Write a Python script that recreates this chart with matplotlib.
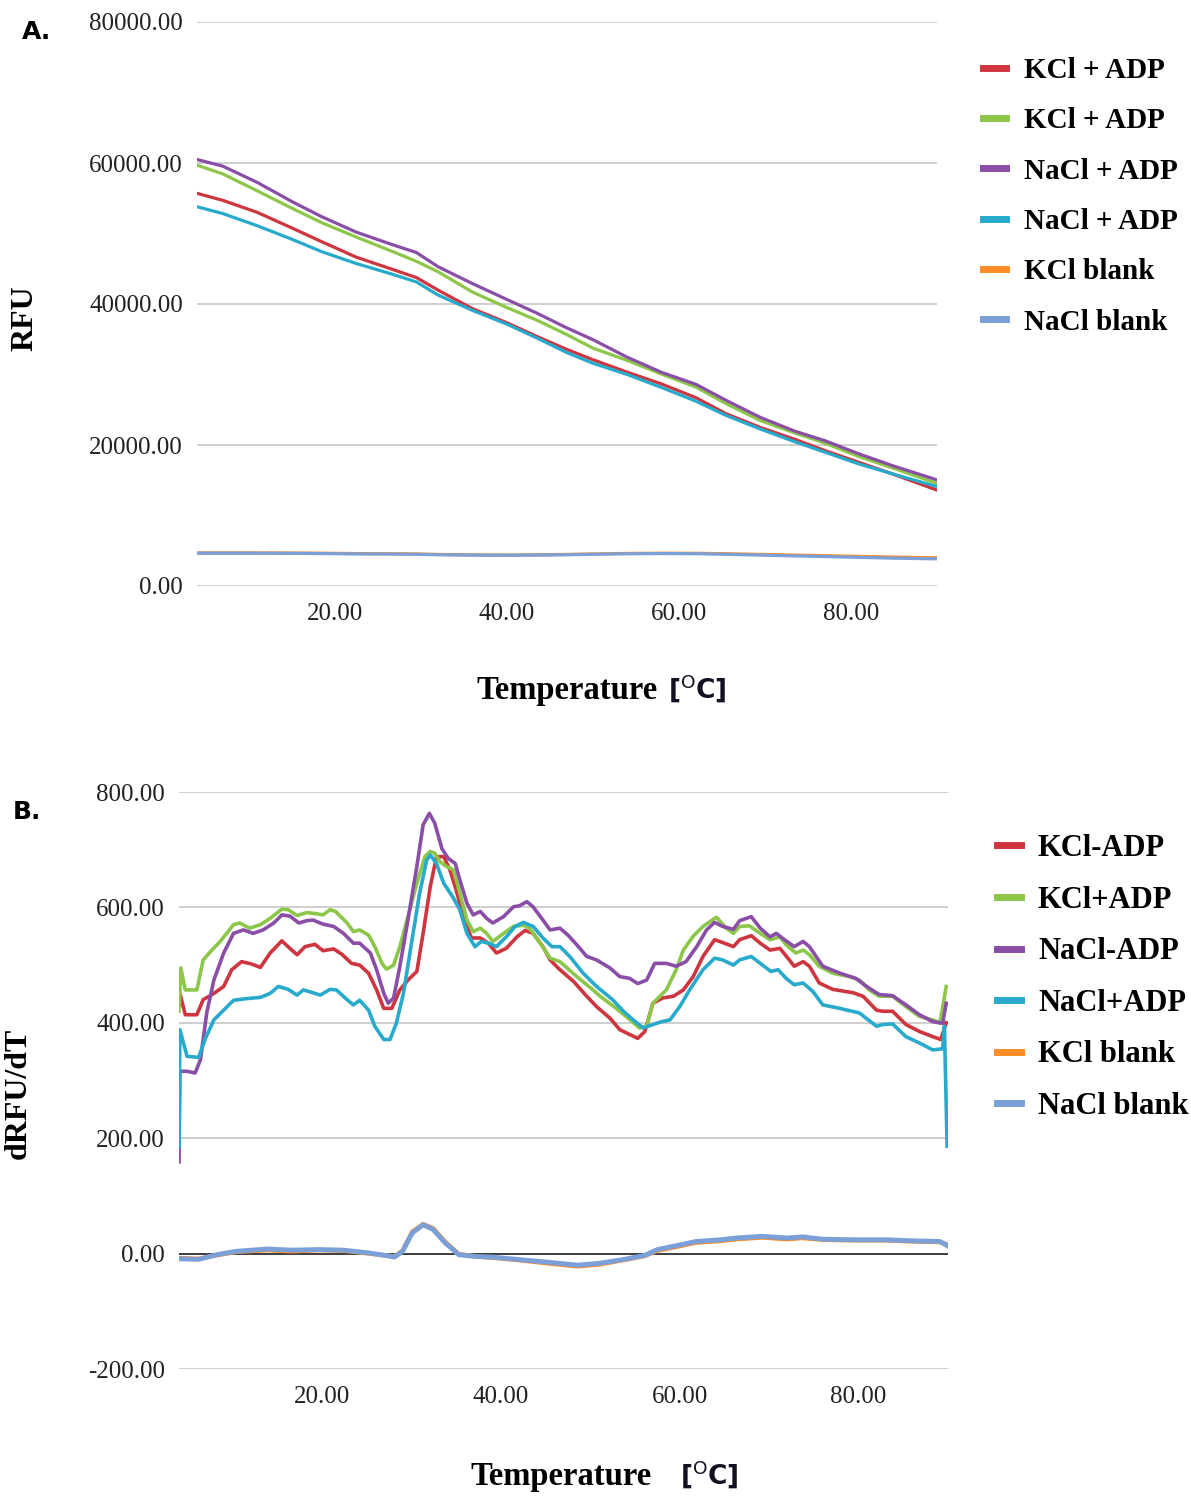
import matplotlib
matplotlib.use('Agg')
import matplotlib.pyplot as plt

plt.rcParams['font.family'] = ['Liberation Serif', 'DejaVu Serif']
plt.rcParams['mathtext.fontset'] = 'dejavusans'

RED = '#cf353f'
GREEN = '#8cc74a'
PURPLE = '#8a4ea6'
CYAN = '#27aacb'
ORANGE = '#ff8c26'
BLUE = '#7ba0d8'

# ---- panel A: raw fluorescence ----
temp_a = [4, 7, 11, 15, 18.5, 22.5, 26.5, 29.5, 32, 36, 40, 43.5, 47, 50, 54, 58, 62, 65.5,
          69.5, 73.5, 77, 81, 85, 90]
kcl_adp_a = [55700, 54700, 53000, 50800, 48830, 46650, 45000, 43750, 41980, 39350, 37350, 35400,
             33550, 32100, 30330, 28650, 26700, 24430, 22480, 20800, 19200, 17510, 15820, 13600]
kcl_adp2_a = [59700, 58450, 56050, 53600, 51530, 49500, 47550, 46050, 44580, 41700, 39500, 37700,
              35650, 33750, 32000, 30050, 28200, 25860, 23450, 21700, 20250, 18330, 16680, 14550]
nacl_adp_a = [60500, 59550, 57250, 54550, 52380, 50200, 48500, 47300, 45300, 42900, 40650, 38700,
              36600, 34950, 32450, 30300, 28600, 26330, 23900, 21950, 20600, 18710, 17000, 15050]
nacl_adp2_a = [53800, 52830, 51100, 49200, 47420, 45740, 44300, 43130, 41280, 39100, 37150, 35180,
               33100, 31600, 30000, 28150, 26200, 24190, 22250, 20450, 18970, 17280, 15850, 14100]
kcl_blank_a = [4700, 4700, 4700, 4680, 4650, 4600, 4580, 4550, 4480, 4420, 4400, 4430,
               4480, 4550, 4620, 4650, 4640, 4580, 4480, 4380, 4300, 4200, 4100, 4000]
nacl_blank_a = [4650, 4650, 4650, 4630, 4600, 4550, 4530, 4500, 4430, 4370, 4350, 4380,
                4430, 4500, 4570, 4600, 4580, 4500, 4380, 4270, 4180, 4060, 3950, 3850]
labels_a = ['KCl + ADP', 'KCl + ADP', 'NaCl + ADP', 'NaCl + ADP', 'KCl blank', 'NaCl blank']

# ---- panel B: first derivative ----
t_kcl_minus = [4.0, 4.1, 4.7, 6.0, 6.7, 7.9, 9.0, 9.9, 11.0, 12.1, 13.1, 14.2, 15.5, 16.4, 17.2, 18.1,
               19.2, 20.1, 21.3, 22.2, 23.3, 24.2, 25.2, 26.1, 26.9, 27.8, 28.7, 29.6, 30.6, 31.3,
               32.1, 32.8, 33.6, 34.3, 35.0, 35.8, 36.7, 37.7, 38.6, 39.5, 40.6, 41.8, 42.7, 43.6,
               44.7, 45.5, 46.6, 48.1, 49.6, 50.7, 52.2, 53.3, 55.3, 56.1, 57.0, 58.1, 59.3, 60.4,
               61.5, 62.6, 63.9, 65.0, 66.0, 66.7, 68.0, 69.0, 70.1, 71.2, 72.1, 72.8, 73.8, 74.5,
               75.6, 77.1, 79.4, 80.5, 82.0, 82.7, 83.8, 85.3, 86.8, 88.3, 89.2, 89.8]
kcl_minus = [430, 451, 414, 414, 440, 451, 463, 492, 506, 502, 496, 521, 542, 529, 518, 532,
             536, 525, 528, 519, 503, 500, 486, 457, 425, 425, 457, 474, 489, 555,
             636, 688, 688, 665, 630, 584, 547, 547, 538, 521, 529, 549, 560, 555,
             532, 509, 492, 472, 446, 428, 408, 388, 373, 385, 434, 443, 446, 457,
             480, 515, 544, 538, 532, 544, 551, 538, 526, 529, 512, 498, 506, 498,
             469, 458, 452, 446, 422, 420, 420, 397, 385, 376, 371, 400]

t_kcl_plus = [4.0, 4.2, 4.7, 6.0, 6.7, 7.5, 8.6, 10.1, 10.8, 11.9, 13.1, 14.2, 15.5, 16.2, 17.2, 18.3,
              19.4, 20.1, 20.9, 21.5, 22.8, 23.5, 24.2, 25.2, 25.9, 26.7, 27.2, 28.0, 28.7, 29.6,
              30.6, 31.5, 32.1, 32.6, 33.2, 33.9, 34.7, 35.4, 36.2, 36.9, 37.7, 38.4, 39.1, 40.3,
              41.4, 42.5, 43.2, 44.4, 45.5, 46.6, 48.5, 50.3, 51.1, 52.9, 54.0, 55.5, 56.3, 57.0,
              58.5, 59.6, 60.4, 61.5, 62.6, 64.1, 65.2, 66.0, 66.7, 67.8, 69.0, 70.1, 71.2, 71.9,
              73.0, 73.8, 74.5, 75.6, 77.1, 79.0, 80.1, 81.2, 82.3, 83.8, 85.3, 86.8, 88.3, 89.1, 89.8]
kcl_plus = [420, 495, 457, 457, 509, 523, 541, 570, 573, 564, 570, 581, 597, 596, 586, 591,
            589, 587, 596, 593, 573, 558, 561, 552, 532, 503, 493, 500, 532, 584,
            642, 688, 697, 694, 679, 671, 665, 625, 578, 558, 564, 555, 541, 555,
            567, 569, 564, 538, 512, 506, 480, 457, 446, 425, 411, 391, 394, 434,
            457, 492, 526, 550, 567, 583, 564, 555, 567, 568, 555, 544, 549, 535,
            521, 526, 518, 498, 486, 480, 474, 457, 446, 446, 428, 411, 405, 400, 463]

t_nacl_minus = [4.0, 4.1, 4.9, 5.8, 6.4, 7.1, 7.9, 9.0, 10.1, 11.2, 12.3, 13.4, 14.6, 15.5, 16.4, 17.4,
                18.3, 19.0, 20.1, 21.3, 22.4, 23.5, 24.2, 25.4, 26.1, 26.9, 27.4, 28.0, 28.7, 29.6,
                30.6, 31.3, 32.0, 32.6, 33.4, 34.1, 34.9, 35.4, 36.2, 36.9, 37.7, 38.4, 39.1, 40.3,
                41.4, 42.1, 42.9, 43.6, 44.7, 45.5, 46.6, 47.5, 48.5, 49.6, 50.7, 52.2, 53.3, 54.4,
                55.3, 56.3, 57.2, 58.5, 59.6, 60.7, 61.9, 63.0, 63.9, 64.8, 66.0, 66.7, 68.0, 69.0,
                70.1, 70.8, 71.7, 72.8, 73.8, 74.5, 76.0, 77.9, 79.7, 80.9, 82.3, 83.8, 85.3, 86.8,
                88.3, 89.4, 89.8]
nacl_minus = [159, 316, 316, 313, 336, 417, 474, 521, 555, 561, 555, 561, 573, 587, 585, 573,
              577, 578, 571, 567, 555, 538, 538, 521, 492, 451, 434, 443, 498, 578,
              671, 743, 763, 746, 702, 685, 676, 648, 607, 587, 593, 581, 573, 584,
              601, 603, 610, 601, 578, 561, 564, 552, 535, 515, 509, 495, 480, 477,
              468, 474, 503, 503, 498, 506, 532, 561, 574, 567, 562, 577, 584, 564,
              549, 555, 544, 532, 541, 532, 498, 486, 477, 463, 449, 447, 431, 414,
              402, 399, 434]

t_nacl_plus = [4.0, 4.1, 4.9, 6.2, 6.9, 7.9, 9.0, 10.1, 11.6, 13.1, 14.2, 15.1, 16.2, 17.2, 17.9, 19.0,
               19.8, 20.9, 21.6, 22.8, 23.5, 24.2, 25.2, 25.9, 26.9, 27.6, 28.3, 29.1, 30.0, 30.9,
               31.7, 32.1, 32.8, 33.6, 34.7, 35.4, 36.2, 37.1, 37.8, 38.6, 39.5, 40.6, 41.6, 42.5,
               43.6, 44.7, 45.7, 46.6, 47.7, 49.2, 50.7, 52.5, 53.7, 54.8, 55.9, 57.0, 58.0, 58.9,
               60.0, 61.1, 62.6, 63.9, 64.8, 66.0, 66.7, 68.0, 69.0, 70.2, 71.0, 71.9, 72.8, 73.8,
               74.9, 76.0, 77.9, 80.1, 82.0, 82.7, 83.8, 85.3, 86.8, 88.3, 89.4, 89.6, 89.9]
nacl_plus = [185, 388, 342, 340, 371, 405, 422, 439, 442, 444, 451, 463, 458, 448, 457, 452,
             448, 458, 457, 440, 431, 439, 422, 394, 371, 371, 399, 451, 538, 624,
             682, 691, 676, 642, 616, 596, 555, 532, 541, 538, 532, 549, 567, 574,
             567, 547, 532, 532, 515, 486, 463, 440, 420, 405, 391, 397, 402, 405,
             428, 457, 492, 512, 509, 500, 509, 515, 503, 489, 492, 477, 466, 469,
             454, 431, 425, 417, 394, 397, 398, 376, 365, 353, 355, 394, 186]

t_blank = [4.0, 6.2, 8.2, 10.4, 13.9, 16.7, 19.6, 22.4, 25.3, 27.0, 28.1, 29.0, 30.1, 31.3, 32.4, 33.8,
           35.3, 37.2, 39.0, 41.8, 45.3, 48.6, 50.9, 53.8, 56.1, 57.5, 60.0, 61.8, 64.6, 66.3,
           69.2, 72.0, 73.7, 76.0, 79.4, 82.9, 86.3, 89.1, 90.0]
kcl_blank = [-8, -9, -3, 3, 6, 4, 6, 5, 0, -3, -5, 5, 38, 51, 44, 20,
             -1, -5, -7, -11, -17, -22, -19, -11, -4, 5, 13, 19, 22, 25,
             28, 25, 27, 24, 23, 23, 21, 20, 15]
nacl_blank = [-9, -10, -2, 4, 8, 6, 7, 6, 1, -3, -6, 4, 36, 50, 42, 18,
              -2, -5, -6, -10, -15, -20, -17, -10, -3, 7, 15, 21, 24, 27,
              30, 27, 29, 25, 24, 24, 22, 21, 13]
labels_b = ['KCl-ADP', 'KCl+ADP', 'NaCl-ADP', 'NaCl+ADP', 'KCl blank', 'NaCl blank']


def style_axes(ax, yticks, ylim):
    for side in ['top', 'right', 'left', 'bottom']:
        ax.spines[side].set_visible(False)
    ax.set_xlim(4, 90)
    ax.set_ylim(*ylim)
    ax.set_yticks(yticks)
    ax.set_yticklabels(['%.2f' % v for v in yticks])
    ax.set_xticks([20, 40, 60, 80])
    ax.set_xticklabels(['%.2f' % v for v in [20, 40, 60, 80]])
    ax.tick_params(length=0, labelsize=18, colors='#222222')
    ax.tick_params(axis='x', pad=12)
    ax.tick_params(axis='y', pad=10)
    ax.yaxis.grid(True, color='#cccccc', linewidth=1.3)
    ax.set_axisbelow(True)


fig = plt.figure(figsize=(11.91, 14.96), dpi=100)
colors = [RED, GREEN, PURPLE, CYAN, ORANGE, BLUE]

# panel A
ax1 = fig.add_axes([197 / 1191, 1 - 586 / 1496, 740 / 1191, 564 / 1496])
style_axes(ax1, [0, 20000, 40000, 60000, 80000], (0, 80000))
series_a = [kcl_adp_a, kcl_adp2_a, nacl_adp_a, nacl_adp2_a, kcl_blank_a, nacl_blank_a]
for vals, c, lab in zip(series_a, colors, labels_a):
    ax1.plot(temp_a, vals, color=c, linewidth=2.3, label=lab, solid_joinstyle='round')
leg = ax1.legend(loc='upper left', bbox_to_anchor=(983 / 1191, 1 - 57 / 1496),
                 bbox_transform=fig.transFigure, frameon=False, borderpad=0, borderaxespad=0,
                 handlelength=0.8, handletextpad=0.6, labelspacing=0.8,
                 prop={'family': 'Liberation Serif', 'weight': 'bold', 'size': 21})
for h in leg.get_lines():
    h.set_linewidth(5)

# panel B
ax2 = fig.add_axes([179 / 1191, 1 - 1369 / 1496, 769 / 1191, 577 / 1496])
style_axes(ax2, [-200, 0, 200, 400, 600, 800], (-200, 800))
ax2.axhline(0, color='#333333', linewidth=1.3, zorder=1)
series_b = [(t_kcl_minus, kcl_minus), (t_kcl_plus, kcl_plus), (t_nacl_minus, nacl_minus),
            (t_nacl_plus, nacl_plus), (t_blank, kcl_blank), (t_blank, nacl_blank)]
widths = [2.6, 2.6, 2.6, 2.6, 3.2, 3.5]
for (tt, vals), c, lab, w in zip(series_b, colors, labels_b, widths):
    ax2.plot(tt, vals, color=c, linewidth=w, label=lab, solid_joinstyle='round')
leg2 = ax2.legend(loc='upper left', bbox_to_anchor=(997 / 1191, 1 - 834 / 1496),
                  bbox_transform=fig.transFigure, frameon=False, borderpad=0, borderaxespad=0,
                  handlelength=0.78, handletextpad=0.56, labelspacing=0.74,
                  prop={'family': 'Liberation Serif', 'weight': 'bold', 'size': 22})
for h in leg2.get_lines():
    h.set_linewidth(5)

# axis titles
fig.text(25 / 1191, 1 - 318 / 1496, 'RFU', rotation=90, ha='center', va='center',
         fontsize=23, fontweight='bold')
fig.text(18 / 1191, 1 - 1093 / 1496, 'dRFU/dT', rotation=90, ha='center', va='center',
         fontsize=23, fontweight='bold')
fig.text(476 / 1191, 1 - 691 / 1496, 'Temperature', ha='left', va='center',
         fontsize=23.5, fontweight='bold')
fig.text(668 / 1191, 1 - 689 / 1496, r'[$^{\mathsf{O}}$C]', ha='left', va='center',
         fontsize=19, fontweight='bold', family='DejaVu Sans', color='#111122')
fig.text(470 / 1191, 1 - 1477 / 1496, 'Temperature', ha='left', va='center',
         fontsize=23.5, fontweight='bold')
fig.text(680 / 1191, 1 - 1475 / 1496, r'[$^{\mathsf{O}}$C]', ha='left', va='center',
         fontsize=19, fontweight='bold', family='DejaVu Sans', color='#111122')

fig.text(37 / 1191, 1 - 32 / 1496, 'A.', ha='center', va='center', fontsize=18,
         fontweight='bold', family='DejaVu Sans')
fig.text(27 / 1191, 1 - 812 / 1496, 'B.', ha='center', va='center', fontsize=18,
         fontweight='bold', family='DejaVu Sans')

fig.savefig('out.png', dpi=100)
